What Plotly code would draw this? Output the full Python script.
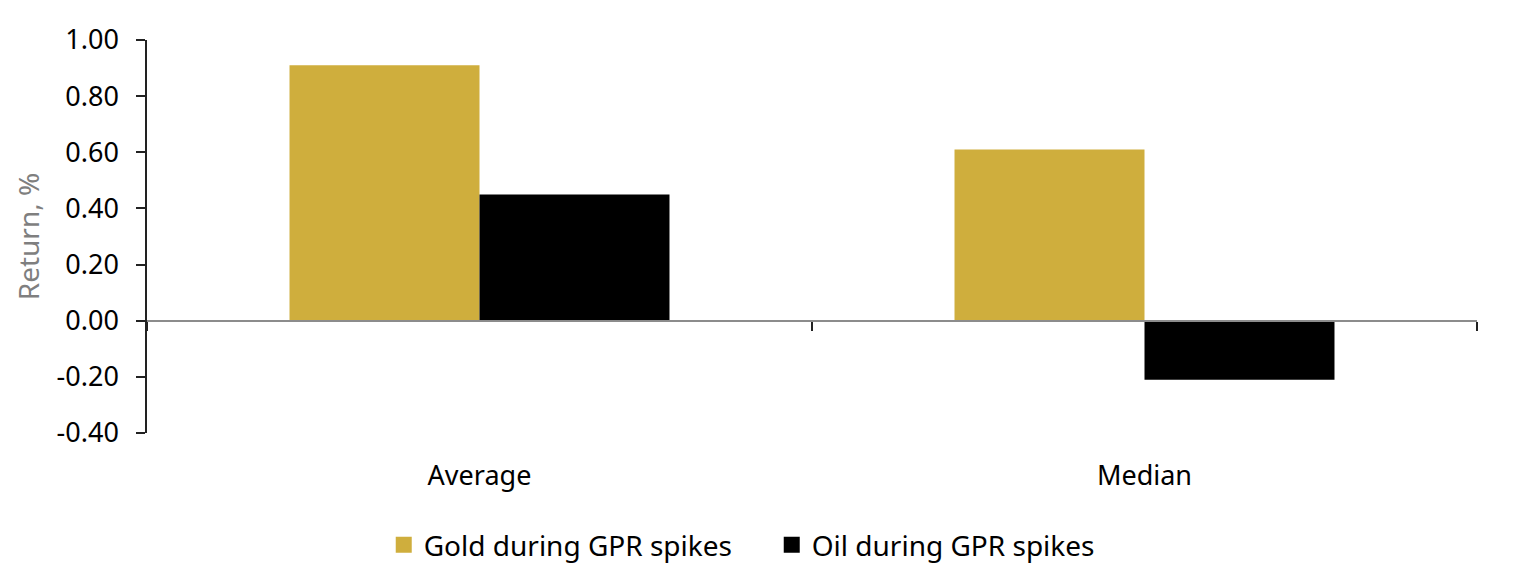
import plotly.graph_objects as go

categories = ["Average", "Median"]
gold_values = [0.91, 0.61]
oil_values = [0.45, -0.21]
y_ticks = [-0.4, -0.2, 0.0, 0.2, 0.4, 0.6, 0.8, 1.0]
y_tick_labels = ["-0.40", "-0.20", "0.00", "0.20", "0.40", "0.60", "0.80", "1.00"]
series_names = ["Gold during GPR spikes", "Oil during GPR spikes"]

GOLD = "#CFAE3D"
FONT = "Noto Sans"

fig = go.Figure()
fig.add_trace(go.Bar(x=categories, y=gold_values, name=series_names[0], showlegend=False,
                     marker=dict(color=GOLD, line=dict(width=0))))
fig.add_trace(go.Bar(x=categories, y=oil_values, name=series_names[1], showlegend=False,
                     marker=dict(color="#000000", line=dict(width=0))))
# invisible trace for the zero-line category axis
fig.add_trace(go.Bar(x=categories, y=[0, 0], xaxis="x2", showlegend=False,
                     hoverinfo="skip", marker=dict(color="rgba(0,0,0,0)")))
# legend entries with larger square swatches
for name, col in zip(series_names, [GOLD, "#000000"]):
    fig.add_trace(go.Scatter(x=[None], y=[None], mode="markers", name=name,
                             marker=dict(symbol="square", size=17, color=col)))

fig.update_layout(
    width=1514, height=588,
    margin=dict(l=139, r=45, t=32, b=163),
    paper_bgcolor="white", plot_bgcolor="white",
    barmode="group", bargap=0.4286, bargroupgap=0,
    font=dict(family=FONT, size=27, color="#000000"),
    xaxis=dict(type="category", showline=False, ticks="", showgrid=False,
               zeroline=False, tickfont=dict(size=27), ticklabelstandoff=24),
    xaxis2=dict(type="category", overlaying="x", anchor="free",
                position=0.4 / 1.4, showline=True, linecolor="#8C8C8C", linewidth=2,
                ticks="outside", ticklen=9, tickcolor="#222222", tickwidth=1.5,
                tickson="boundaries", showticklabels=False, showgrid=False,
                zeroline=False, matches="x"),
    yaxis=dict(range=[-0.4, 1.0], tickvals=y_ticks, ticktext=y_tick_labels,
               showline=True, linecolor="#222222", linewidth=1.5,
               ticks="outside", ticklen=9, tickcolor="#222222", tickwidth=1.5,
               showgrid=False, zeroline=False, tickfont=dict(size=27),
               ticklabelstandoff=12,
               title=dict(text="Return, %", font=dict(size=28, color="#7F7F7F"),
                          standoff=9)),
    legend=dict(orientation="h", x=0.178, xanchor="left", y=-0.285,
                yanchor="middle", font=dict(size=28), itemwidth=30,
                entrywidth=343, entrywidthmode="pixels",
                traceorder="normal"),
    showlegend=True,
)

fig.write_html("out.html")
